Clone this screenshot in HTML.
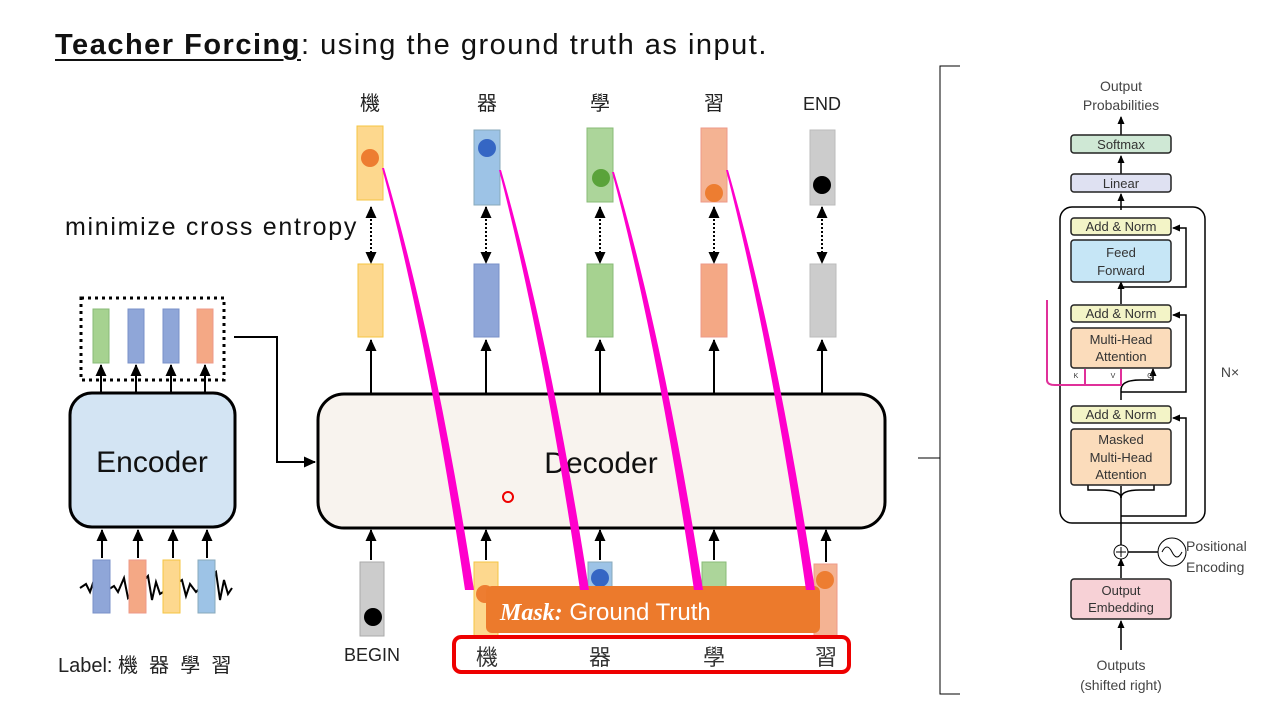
<!DOCTYPE html><html><head><meta charset="utf-8"><style>
body{margin:0;width:1280px;height:720px;background:#fff;overflow:hidden;position:relative;font-family:"Liberation Sans","Noto Sans CJK TC",sans-serif}
.a{position:absolute}
</style></head><body>
<div class="a" style="left:55px;top:29px;font-size:29px;color:#111;letter-spacing:1.5px;white-space:nowrap"><b style="text-decoration:underline;text-underline-offset:5px">Teacher Forcing</b>: using the ground truth as input.</div>
<div class="a" style="left:65px;top:213px;font-size:25px;color:#111;letter-spacing:1.7px;white-space:nowrap">minimize cross entropy</div>
<div class="a" style="left:58px;top:649px;font-size:20px;color:#222;white-space:nowrap">Label: 機&nbsp;&nbsp;器&nbsp;&nbsp;學&nbsp;&nbsp;習</div>
<svg class="a" style="left:0;top:0" width="1280" height="720" font-family="Liberation Sans, Noto Sans CJK TC, sans-serif">
<defs>
<marker id="at" markerUnits="userSpaceOnUse" markerWidth="12" markerHeight="12" refX="11" refY="6" orient="auto-start-reverse"><path d="M0,0.5L12,6L0,11.5z" fill="#000"/></marker>
<marker id="ab" markerUnits="userSpaceOnUse" markerWidth="8" markerHeight="8" refX="7" refY="4" orient="auto-start-reverse"><path d="M0,0.5L8,4L0,7.5z" fill="#000"/></marker>
</defs>
<g font-size="20" fill="#222" text-anchor="middle"><text x="370" y="110">機</text><text x="487" y="110">器</text><text x="600" y="110">學</text><text x="714" y="110">習</text><text x="822" y="110" font-size="18">END</text></g>
<rect x="357" y="126" width="26" height="74" fill="#fdd88e" stroke="#f5c542"/>
<rect x="474" y="130" width="26" height="75" fill="#9dc3e6" stroke="#8ab"/>
<rect x="587" y="128" width="26" height="74" fill="#acd59a" stroke="#8b7"/>
<rect x="701" y="128" width="26" height="74" fill="#f4b393" stroke="#e98"/>
<rect x="810" y="130" width="25" height="75" fill="#ccc" stroke="#bbb"/>
<circle cx="370" cy="158" r="9" fill="#ed7d31"/><circle cx="487" cy="148" r="9" fill="#3566c4"/><circle cx="601" cy="178" r="9" fill="#5aa33a"/><circle cx="714" cy="193" r="9" fill="#ed7d31"/><circle cx="822" cy="185" r="9" fill="#000"/>
<g stroke="#000" stroke-width="2" stroke-dasharray="2,2" marker-end="url(#at)" marker-start="url(#at)"><line x1="371" y1="207" x2="371" y2="263"/><line x1="486" y1="207" x2="486" y2="263"/><line x1="600" y1="207" x2="600" y2="263"/><line x1="714" y1="207" x2="714" y2="263"/><line x1="822" y1="207" x2="822" y2="263"/></g>
<rect x="358" y="264" width="25" height="73" fill="#fdd88e" stroke="#f5c542"/>
<rect x="474" y="264" width="25" height="73" fill="#8fa6d8" stroke="#7990c8"/>
<rect x="587" y="264" width="26" height="73" fill="#a6d290" stroke="#8b7"/>
<rect x="701" y="264" width="26" height="73" fill="#f4a885" stroke="#e98"/>
<rect x="810" y="264" width="26" height="73" fill="#ccc" stroke="#bbb"/>
<g stroke="#000" stroke-width="2" marker-end="url(#at)"><line x1="371" y1="393" x2="371" y2="340"/><line x1="486" y1="393" x2="486" y2="340"/><line x1="600" y1="393" x2="600" y2="340"/><line x1="714" y1="393" x2="714" y2="340"/><line x1="822" y1="393" x2="822" y2="340"/>
<line x1="371" y1="560" x2="371" y2="530"/><line x1="486" y1="560" x2="486" y2="530"/><line x1="600" y1="560" x2="600" y2="530"/><line x1="714" y1="560" x2="714" y2="530"/><line x1="826" y1="562" x2="826" y2="530"/></g>
<rect x="318" y="394" width="567" height="134" rx="26" fill="#f8f3ee" stroke="#000" stroke-width="3"/>
<text x="601" y="473" font-size="30" text-anchor="middle" fill="#111">Decoder</text>
<circle cx="508" cy="497" r="5" fill="none" stroke="#e00" stroke-width="2"/>
<rect x="360" y="562" width="24" height="74" fill="#ccc" stroke="#aaa"/><circle cx="373" cy="617" r="9" fill="#000"/>
<text x="372" y="661" font-size="18" text-anchor="middle" fill="#222">BEGIN</text>
<rect x="474" y="562" width="24" height="75" fill="#fdd88e" stroke="#f5c542"/>
<rect x="588" y="562" width="24" height="30" fill="#9dc3e6" stroke="#8ab"/><circle cx="600" cy="578" r="9" fill="#3566c4"/>
<rect x="702" y="562" width="24" height="30" fill="#acd59a" stroke="#8b7"/>
<rect x="814" y="564" width="23" height="73" fill="#f4b393" stroke="#e98"/><circle cx="825" cy="580" r="9" fill="#ed7d31"/>
<circle cx="485" cy="594" r="9" fill="#ed7d31"/>
<rect x="486" y="586" width="334" height="47" rx="6" fill="#ec7a2c"/>
<text x="500" y="620" font-size="24" fill="#fff"><tspan font-family="Liberation Serif" font-style="italic" font-weight="bold">Mask:</tspan> Ground Truth</text>
<rect x="454" y="637" width="395" height="35" rx="7" fill="none" stroke="#e00" stroke-width="4"/>
<g font-size="22" fill="#333" text-anchor="middle"><text x="487" y="665">機</text><text x="600" y="665">器</text><text x="714" y="665">學</text><text x="826" y="665">習</text></g>
<g fill="#ff00cc">
<path d="M384,168 Q435,340 474,590 L465,590 Q428,340 382,168 Z"/>
<path d="M501,170 Q550,340 589,590 L580,590 Q543,340 499,170 Z"/>
<path d="M614,172 Q664,340 703,590 L694,590 Q657,340 612,172 Z"/>
<path d="M728,170 Q777,340 815,590 L806,590 Q770,340 726,170 Z"/></g>
<rect x="81" y="298" width="143" height="82" fill="none" stroke="#000" stroke-width="3" stroke-dasharray="3,4"/>
<rect x="93" y="309" width="16" height="54" fill="#a6d290" stroke="#8b7"/><rect x="128" y="309" width="16" height="54" fill="#8fa6d8" stroke="#7990c8"/><rect x="163" y="309" width="16" height="54" fill="#8fa6d8" stroke="#7990c8"/><rect x="197" y="309" width="16" height="54" fill="#f4a885" stroke="#e98"/>
<g stroke="#000" stroke-width="2" marker-end="url(#at)"><line x1="101" y1="393" x2="101" y2="365"/><line x1="136" y1="393" x2="136" y2="365"/><line x1="171" y1="393" x2="171" y2="365"/><line x1="205" y1="393" x2="205" y2="365"/>
<line x1="102" y1="558" x2="102" y2="530"/><line x1="138" y1="558" x2="138" y2="530"/><line x1="173" y1="558" x2="173" y2="530"/><line x1="207" y1="558" x2="207" y2="530"/></g>
<rect x="70" y="393" width="165" height="134" rx="22" fill="#d3e4f3" stroke="#000" stroke-width="3"/>
<text x="152" y="472" font-size="30" text-anchor="middle" fill="#111">Encoder</text>
<path d="M234,337 H277 V462 H315" fill="none" stroke="#000" stroke-width="2" marker-end="url(#at)"/>
<path d="M80,588 L86,584 L90,592 L94,580 L98,596 L114,586 L118,592 L124,578 L128,598 L148,576 L152,600 L156,582 L160,594 L182,580 L186,596 L190,584 L196,592 L216,572 L220,600 L224,580 L228,594 L232,588" fill="none" stroke="#000" stroke-width="2"/>
<rect x="93" y="560" width="17" height="53" fill="#8fa6d8" stroke="#7990c8"/><rect x="129" y="560" width="17" height="53" fill="#f4a885" stroke="#e98"/><rect x="163" y="560" width="17" height="53" fill="#fdd88e" stroke="#f5c542"/><rect x="198" y="560" width="17" height="53" fill="#9dc3e6" stroke="#8ab"/>
<path d="M960,66 H940 V694 H960 M940,458 H918" fill="none" stroke="#000" stroke-width="1"/>
<g font-size="14" fill="#444" text-anchor="middle">
<text x="1121" y="91">Output</text><text x="1121" y="110">Probabilities</text>
<text x="1121" y="670">Outputs</text><text x="1121" y="690">(shifted right)</text>
<text x="1186" y="551" text-anchor="start">Positional</text><text x="1186" y="572" text-anchor="start">Encoding</text>
<text x="1230" y="377">N×</text></g>
<g stroke="#000" stroke-width="1.5" marker-end="url(#ab)"><line x1="1121" y1="135" x2="1121" y2="117"/><line x1="1121" y1="174" x2="1121" y2="156"/><line x1="1121" y1="210" x2="1121" y2="194"/><line x1="1121" y1="650" x2="1121" y2="621"/><line x1="1121" y1="578" x2="1121" y2="559"/></g>
<rect x="1060" y="207" width="145" height="316" rx="12" fill="none" stroke="#000" stroke-width="1.5"/>
<g stroke="#000" stroke-width="1.5" fill="none">
<line x1="1121" y1="545" x2="1121" y2="486"/>
<path d="M1121,516 H1186 V418 H1173" marker-end="url(#ab)"/>
<path d="M1121,498 Q1121,490 1100,490 H1088 V484" /><path d="M1121,498 Q1121,490 1140,490 H1154 V484"/>
<path d="M1121,400 V390 Q1121,380 1140,380 H1153 V369" marker-end="url(#ab)"/>
<path d="M1121,392 H1186 V315 H1173" marker-end="url(#ab)"/>
<path d="M1121,287 H1186 V228 H1173" marker-end="url(#ab)"/>
<line x1="1121" y1="304" x2="1121" y2="282" marker-end="url(#ab)"/>
<line x1="1128" y1="552" x2="1158" y2="552"/>
</g>
<path d="M1047,300 V380 Q1047,385 1055,385 H1121 V369 M1085,385 V369" fill="none" stroke="#e0309a" stroke-width="2"/>
<circle cx="1121" cy="552" r="7" fill="#fff" stroke="#000"/><path d="M1116,552H1126M1121,547V557" stroke="#000"/>
<circle cx="1172" cy="552" r="14" fill="#fff" stroke="#000"/><path d="M1162,552 Q1167,542 1172,552 T1182,552" fill="none" stroke="#000"/>
<g stroke="#222" stroke-width="1.5">
<rect x="1071" y="135" width="100" height="18" rx="3" fill="#cfe8d5"/>
<rect x="1071" y="174" width="100" height="18" rx="3" fill="#dfe1f2"/>
<rect x="1071" y="218" width="100" height="17" rx="3" fill="#f3f4c7"/>
<rect x="1071" y="240" width="100" height="42" rx="3" fill="#c6e6f6"/>
<rect x="1071" y="305" width="100" height="17" rx="3" fill="#f3f4c7"/>
<rect x="1071" y="328" width="100" height="40" rx="3" fill="#fbdcbb"/>
<rect x="1071" y="406" width="100" height="17" rx="3" fill="#f3f4c7"/>
<rect x="1071" y="429" width="100" height="56" rx="3" fill="#fbdcbb"/>
<rect x="1071" y="579" width="100" height="40" rx="3" fill="#f7d1d6"/>
</g>
<g font-size="13" fill="#333" text-anchor="middle">
<text x="1121" y="149">Softmax</text><text x="1121" y="188">Linear</text>
<text x="1121" y="231">Add &amp; Norm</text><text x="1121" y="257">Feed</text><text x="1121" y="275">Forward</text>
<text x="1121" y="318">Add &amp; Norm</text><text x="1121" y="344">Multi-Head</text><text x="1121" y="361">Attention</text>
<text x="1121" y="419">Add &amp; Norm</text><text x="1121" y="444">Masked</text><text x="1121" y="462">Multi-Head</text><text x="1121" y="479">Attention</text>
<text x="1121" y="595">Output</text><text x="1121" y="612">Embedding</text>
<text x="1076" y="378" font-size="7">K</text><text x="1113" y="378" font-size="7">V</text><text x="1150" y="378" font-size="7">Q</text></g>
</svg>
</body></html>
